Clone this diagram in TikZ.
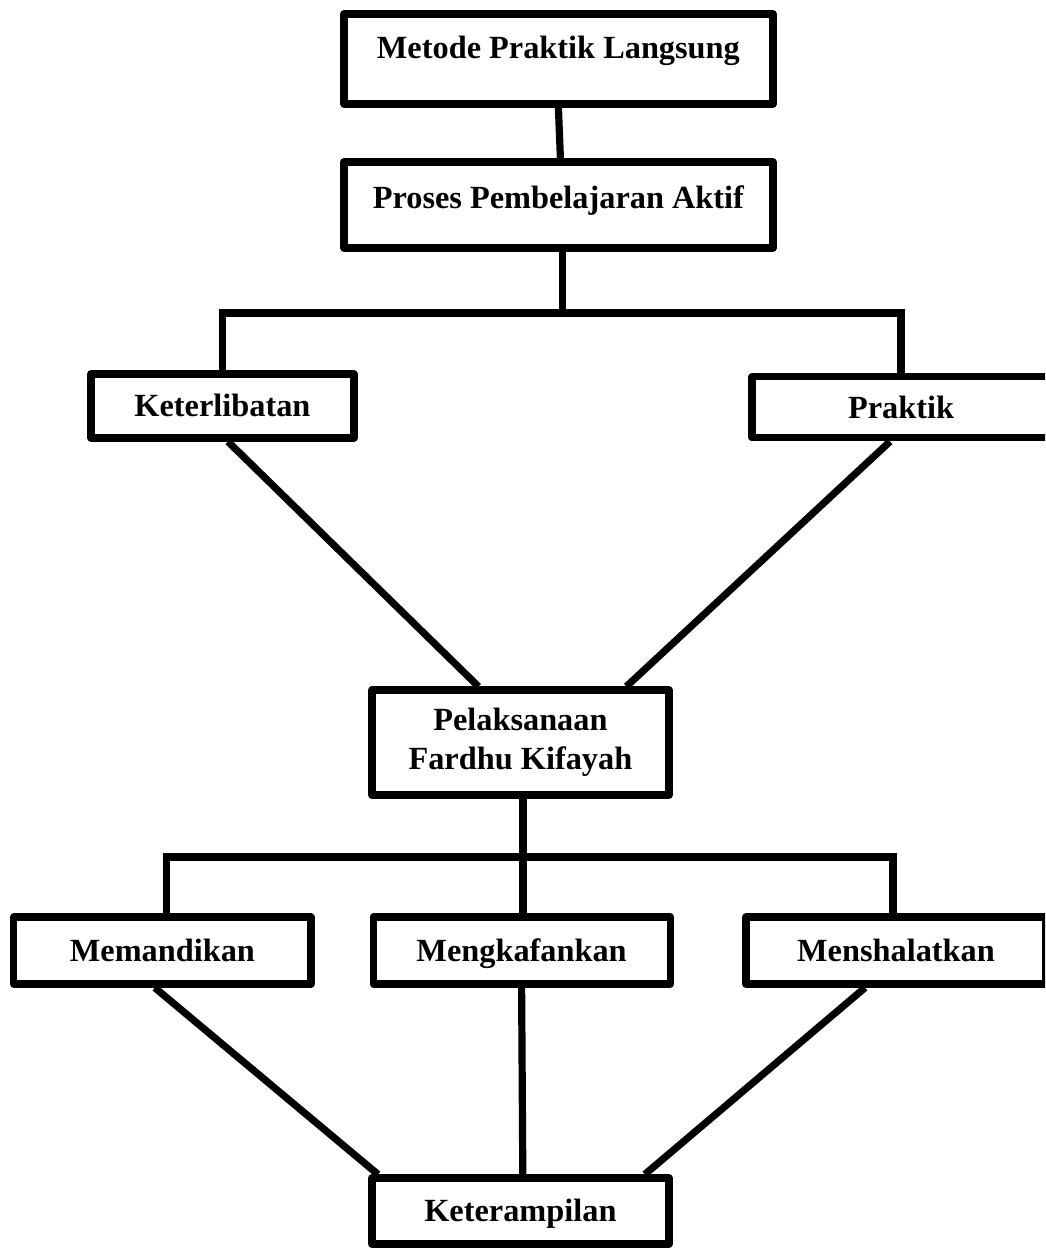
\documentclass[tikz,border=0pt]{standalone}
\usepackage{fontspec}
\setmainfont{Liberation Serif}
\begin{document}
\begin{tikzpicture}[
  kotak/.style={draw, line width=0.18cm, line join=round, inner sep=0pt, align=center,
    font=\bfseries\fontsize{23}{27.7}\selectfont},
  satu/.style={kotak, text height=15.6pt, text depth=0pt},
  garis/.style={line width=0.18cm}]
\useasboundingbox (0,0) rectangle (26.125,31.275);
\clip (0,0) rectangle (26.125,31.275);
\node[kotak, minimum width=10.725cm, minimum height=2.25cm, text height=15.6pt, text depth=15.6pt] (metode) at (13.96,29.8) {Metode Praktik Langsung};
\node[kotak, minimum width=10.725cm, minimum height=2.15cm, text height=15.6pt, text depth=10.6pt] (proses) at (13.96,26.15) {Proses Pembelajaran Aktif};
\node[satu, minimum width=6.575cm, minimum height=1.6cm] (keter) at (5.56,21.125) {Keterlibatan};
\node[satu, minimum width=7.45cm, minimum height=1.525cm] (praktik) at (22.525,21.09) {Praktik};
\node[kotak, minimum width=7.425cm, minimum height=2.625cm] (pelak) at (13.01,12.71) {Pelaksanaan\\Fardhu Kifayah};
\node[satu, minimum width=7.425cm, minimum height=1.675cm] (mandi) at (4.06,7.51) {Memandikan};
\node[satu, minimum width=7.425cm, minimum height=1.675cm] (kafan) at (13.04,7.51) {Mengkafankan};
\node[satu, minimum width=7.5cm, minimum height=1.675cm] (shalat) at (22.4,7.51) {Menshalatkan};
\node[satu, minimum width=7.425cm, minimum height=1.65cm] (terampil) at (13.01,1.0) {Keterampilan};

\coordinate (bagi1) at (14.07,23.45);
\coordinate (bagi2) at (13.075,9.85);

\draw[garis] (metode.south) -- ([xshift=0.05cm]proses.north);
\draw[garis] (proses.south -| bagi1) -- (bagi1);
\draw[garis] (keter.north) |- (bagi1) -| (praktik.north);
\draw[garis] ([xshift=0.14cm]keter.south) -- ([xshift=-1.05cm]pelak.north);
\draw[garis] ([xshift=-0.275cm]praktik.south) -- ([xshift=2.65cm]pelak.north);
\draw[garis] (pelak.south -| bagi2) -- (bagi2);
\draw[garis] ([xshift=0.1cm]mandi.north) |- (bagi2) -| ([xshift=-0.075cm]shalat.north);
\draw[garis] (bagi2) -- (kafan.north -| bagi2);
\draw[garis] ([xshift=-0.19cm]mandi.south) -- ([xshift=-3.56cm]terampil.north);
\draw[garis] (kafan.south) -- ([xshift=0.06cm]terampil.north);
\draw[garis] ([xshift=-0.775cm]shalat.south) -- ([xshift=3.11cm]terampil.north);
\end{tikzpicture}
\end{document}
